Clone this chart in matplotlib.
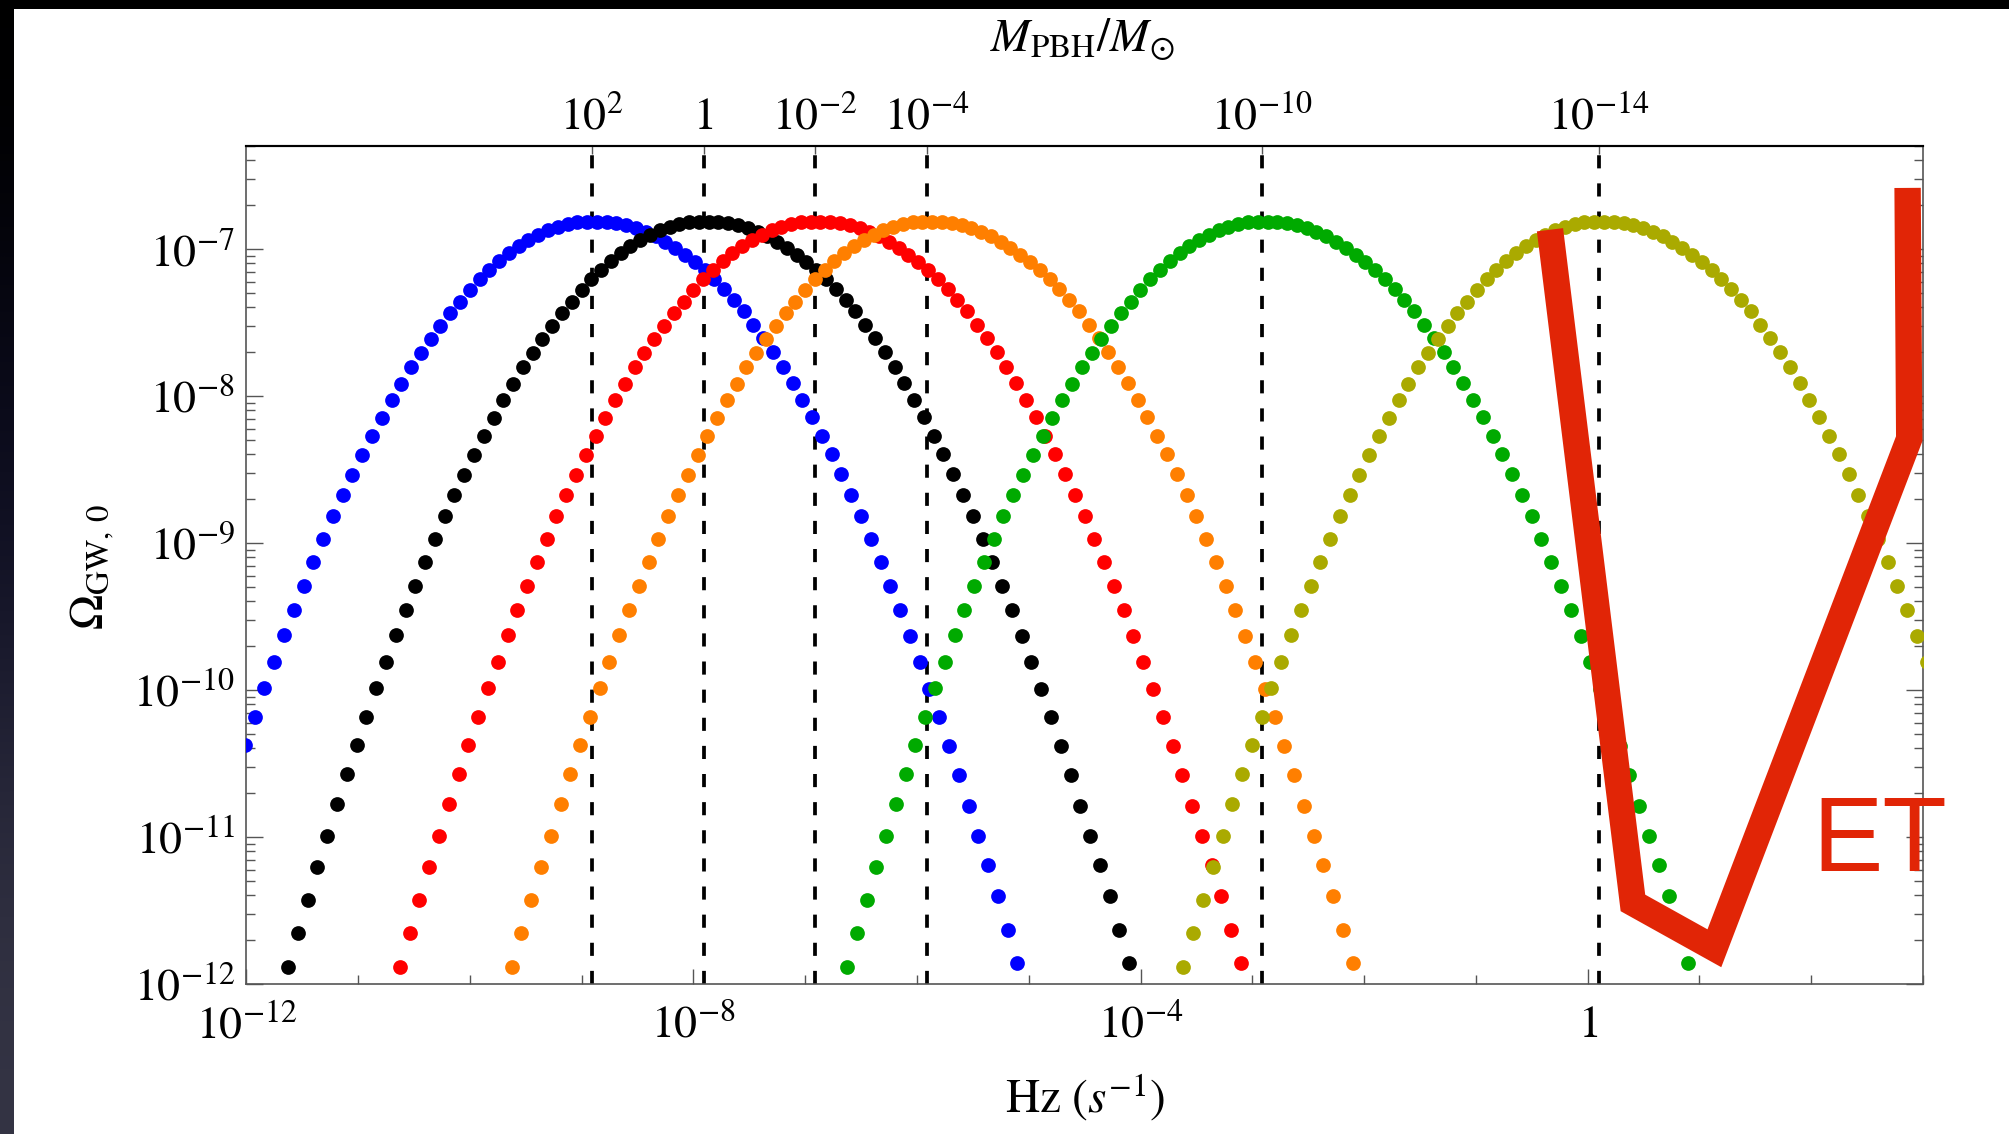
import numpy as np
import matplotlib
matplotlib.use("Agg")
import matplotlib.pyplot as plt
from matplotlib.ticker import FixedLocator, NullLocator, LogLocator, NullFormatter
from matplotlib.patches import Rectangle

plt.rcParams['mathtext.fontset'] = 'stix'
plt.rcParams['font.family'] = ['Liberation Serif', 'DejaVu Serif']

# ---------------- data ----------------
# peak frequency (log10 Hz) of each PBH-mass curve, and the mass labels (exponent of M/Msun)
peak_log10_f = [-8.91, -7.91, -6.91, -5.91, -2.91, 0.10]
mass_exponents = [2, 0, -2, -4, -10, -14]
curve_colors = ['#0000FF', '#000000', '#FF0000', '#FF7F00', '#00AA00', '#AAAA00']

# common spectral shape: dots sampled every 0.0875 decade in frequency, offset from the peak
shape_step = 0.0875
shape_first_offset = 0.046 - 43 * shape_step
# log10(Omega_GW,0) of each dot (left tail -> peak -> right tail)
shape_log10_omega = [
    -11.881, -11.654, -11.427, -11.206, -10.990, -10.778, -10.574, -10.374, -10.183, -9.990,
    -9.808, -9.629, -9.456, -9.290, -9.127, -8.972, -8.820, -8.675, -8.539, -8.404,
    -8.273, -8.152, -8.029, -7.918, -7.806, -7.711, -7.612, -7.522, -7.438, -7.359,
    -7.279, -7.207, -7.142, -7.082, -7.028, -6.981, -6.939, -6.903, -6.874, -6.850,
    -6.832, -6.820, -6.815, -6.814, -6.816, -6.823, -6.836, -6.857, -6.882, -6.911,
    -6.950, -6.995, -7.041, -7.087, -7.143, -7.205, -7.275, -7.348, -7.423, -7.518,
    -7.609, -7.704, -7.802, -7.913, -8.025, -8.145, -8.270, -8.397, -8.534, -8.675,
    -8.815, -8.970, -9.127, -9.290, -9.456, -9.631, -9.808, -9.993, -10.184, -10.381,
    -10.581, -10.790, -10.990, -11.190, -11.402, -11.630, -11.854,
]

# Einstein Telescope sensitivity sketch
et_f = [0.46, 2.54, 13.6, 753.0, 728.0]
et_omega = [1.35e-7, 3.56e-12, 1.75e-12, 5.12e-9, 2.6e-7]

x_major = [1e-12, 1e-8, 1e-4, 1.0]
x_major_labels = [r'$10^{-12}$', r'$10^{-8}$', r'$10^{-4}$', r'$1$']
y_exponents = [-12, -11, -10, -9, -8, -7]

# ---------------- figure ----------------
W, H, DPI = 2009, 1134, 100
fig = plt.figure(figsize=(W / DPI, H / DPI), dpi=DPI)
fig.patch.set_facecolor('white')

# slide background remnants: black top band and dark left strip
fig.patches.append(Rectangle((0, 1 - 9 / H), 1, 9 / H, transform=fig.transFigure,
                             facecolor='black', edgecolor='none', zorder=0))
bg = fig.add_axes([0, 0, 13.4 / W, 1 - 9 / H])
grad = np.array([[0, 0, 0], [8, 8, 22], [18, 18, 38], [40, 40, 58], [52, 52, 68]], float) / 255
bg.imshow(grad[:, None, :], aspect='auto', interpolation='bicubic', extent=[0, 1, 0, 1])
bg.set_axis_off()

L, R, T, B = 246.4, 1923.0, 146.0, 984.0
ax = fig.add_axes([L / W, 1 - B / H, (R - L) / W, (B - T) / H])
ax.set_xscale('log')
ax.set_yscale('log')
ax.set_xlim(1e-12, 1e3)
ax.set_ylim(1e-12, 10 ** -6.30)

# dashed vertical lines at each peak
for p in peak_log10_f:
    ax.axvline(10 ** p, color='black', lw=2.7, ls=(0, (3.5, 4.0)), zorder=2)

# dotted spectra
n = len(shape_log10_omega)
dlogf = shape_first_offset + shape_step * np.arange(n)
omega = 10 ** np.array(shape_log10_omega)
for k, (p, c) in enumerate(zip(peak_log10_f, curve_colors)):
    ax.plot(10 ** (p + dlogf), omega, 'o', ms=10.6, color=c, mec='none', zorder=3 + k)

# ET curve
ax.plot(et_f, et_omega, color='#E12506', lw=19, solid_joinstyle='miter',
        solid_capstyle='butt', zorder=20)
fig.text(1879.5 / W, 1 - 870.7 / H, 'ET', color='#E12506', fontsize=76,
         family='Liberation Sans', ha='center', va='baseline', zorder=30)

# axes ticks
tick_col = '#555555'
ax.xaxis.set_major_locator(FixedLocator(x_major))
ax.set_xticklabels(x_major_labels)
ax.xaxis.set_minor_locator(FixedLocator([10.0 ** k for k in range(-12, 4) if k % 4 != 0]))
ax.xaxis.set_minor_formatter(NullFormatter())
ax.yaxis.set_major_locator(FixedLocator([10.0 ** e for e in y_exponents]))
ax.set_yticklabels([r'$10^{%d}$' % e for e in y_exponents])
ax.yaxis.set_minor_locator(LogLocator(base=10, subs=np.arange(2, 10), numticks=30))
ax.yaxis.set_minor_formatter(NullFormatter())

ax.tick_params(axis='both', which='both', direction='in', color=tick_col, width=1.0,
               labelsize=33, top=False, right=True)
ax.tick_params(axis='x', which='major', length=11, pad=15)
ax.tick_params(axis='x', which='minor', length=6.5)
ax.tick_params(axis='y', which='major', length=12.5, pad=8)
ax.tick_params(axis='y', which='minor', length=6.5)

for s in ['left', 'right', 'bottom']:
    ax.spines[s].set_color(tick_col)
    ax.spines[s].set_linewidth(1.2)
ax.spines['top'].set_color('black')
ax.spines['top'].set_linewidth(1.5)

# top mass axis
ax2 = ax.twiny()
ax2.set_xscale('log')
ax2.set_xlim(ax.get_xlim())
ax2.xaxis.set_major_locator(FixedLocator([10 ** p for p in peak_log10_f]))
ax2.set_xticklabels([r'$1$' if e == 0 else r'$10^{%d}$' % e for e in mass_exponents])
ax2.xaxis.set_minor_locator(NullLocator())
ax2.tick_params(axis='x', which='major', direction='in', length=6, width=1.0,
                color=tick_col, labelsize=33, pad=5)
for s in ['left', 'right', 'bottom']:
    ax2.spines[s].set_visible(False)
ax2.spines['top'].set_color('black')
ax2.spines['top'].set_linewidth(1.5)

# labels
fig.text(1084.7 / W, 1 - 1113 / H, r'$\mathrm{Hz}\ (s^{-1})$', ha='center',
         va='baseline', fontsize=34)
fig.text(92 / W, 1 - 567 / H, r'$\Omega_{\mathrm{GW},\,0}$', rotation=90,
         ha='center', va='center', fontsize=34)
fig.text(1082 / W, 1 - 52 / H, r'$M_{\mathrm{PBH}}/M_{\odot}$', ha='center',
         va='baseline', fontsize=34)

fig.savefig('out.png', dpi=DPI)
